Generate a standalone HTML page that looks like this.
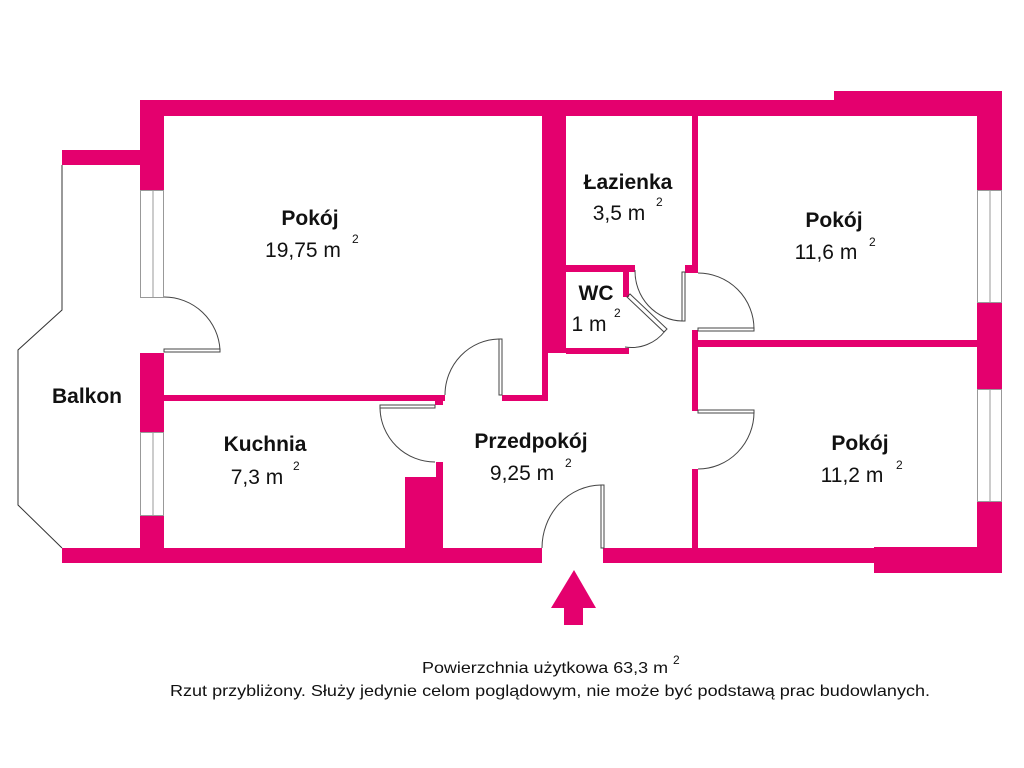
<!DOCTYPE html>
<html><head><meta charset="utf-8"><style>
html,body{margin:0;padding:0;background:#fff;}
svg{display:block;}
text{font-family:"Liberation Sans",sans-serif;fill:#111;}
.b{font-weight:bold;font-size:21px;}
.n{font-size:21px;}
.s{font-size:12px;}
.f{font-size:16px;}
</style></head><body>
<svg width="1024" height="768" viewBox="0 0 1024 768" xmlns="http://www.w3.org/2000/svg">
<g fill="#e4006e">
<rect x="140" y="100" width="700" height="16"/>
<rect x="834" y="91" width="168" height="25"/>
<rect x="977" y="91" width="25" height="99"/>
<rect x="977" y="303" width="25" height="86"/>
<rect x="977" y="502" width="25" height="71"/>
<rect x="874" y="547" width="128" height="26"/>
<rect x="62" y="548" width="480" height="15"/>
<rect x="603" y="548" width="290" height="15"/>
<rect x="62" y="150" width="100" height="15"/>
<rect x="140" y="100" width="24" height="90"/>
<rect x="140" y="353" width="24" height="79"/>
<rect x="140" y="515" width="24" height="48"/>
<rect x="164" y="395" width="281" height="6"/>
<rect x="435" y="401" width="8" height="4"/>
<rect x="502" y="395" width="46" height="6"/>
<rect x="542" y="116" width="24" height="237"/>
<rect x="542" y="353" width="6" height="48"/>
<rect x="436" y="462" width="7" height="90"/>
<rect x="405" y="477" width="38" height="75"/>
<rect x="566" y="265" width="69" height="7"/>
<rect x="623" y="272" width="6" height="25"/>
<rect x="566" y="348" width="63" height="6"/>
<rect x="685" y="265" width="13" height="8"/>
<rect x="692" y="116" width="6" height="157"/>
<rect x="692" y="330" width="6" height="81"/>
<rect x="692" y="469" width="6" height="82"/>
<rect x="698" y="340" width="279" height="7"/>
<polygon points="574,570 596,608 583,608 583,625 564,625 564,608 551,608"/>
</g>
<g fill="none" stroke="#999" stroke-width="1">
<rect x="140.5" y="190.5" width="23" height="107"/>
<line x1="153" y1="190" x2="153" y2="297"/>
<rect x="140.5" y="432.5" width="23" height="83"/>
<line x1="153" y1="432" x2="153" y2="515"/>
<rect x="977.5" y="190.5" width="24" height="112"/>
<line x1="990" y1="190" x2="990" y2="303"/>
<rect x="977.5" y="389.5" width="24" height="112"/>
<line x1="990" y1="389" x2="990" y2="502"/>
</g>
<polyline points="62,165 62,310 18,350 18,505 62,548" fill="none" stroke="#333" stroke-width="1"/>
<g fill="none" stroke="#444" stroke-width="1">
<rect x="164" y="349" width="56" height="3"/>
<path d="M164,297 A56,56 0 0 1 220,350"/>
<rect x="499" y="339" width="3" height="56"/>
<path d="M445,395 A55,56 0 0 1 499,339"/>
<rect x="380" y="405" width="55" height="3"/>
<path d="M380,408 A55,55 0 0 0 435,462"/>
<rect x="601" y="485" width="3" height="63"/>
<path d="M542,548 A60,63 0 0 1 601,485"/>
<rect x="682" y="272" width="3" height="49"/>
<path d="M635,270 A48,50 0 0 0 682,321"/>
<polygon points="627,297 630,294 667,329 664,332"/>
<path d="M665,331 A42,42 0 0 1 625,347"/>
<rect x="698" y="328" width="56" height="3"/>
<path d="M698,273 A56,56 0 0 1 754,329"/>
<rect x="698" y="410" width="56" height="3"/>
<path d="M754,412 A56,57 0 0 1 698,469"/>
</g>
<text class="b" x="310" y="225" text-anchor="middle">Pokój</text>
<text class="n" x="303" y="257" text-anchor="middle">19,75 m</text><text class="s" x="352" y="243">2</text>
<text class="b" x="628" y="189" text-anchor="middle">Łazienka</text>
<text class="n" x="619" y="220" text-anchor="middle">3,5 m</text><text class="s" x="656" y="206">2</text>
<text class="b" x="834" y="227" text-anchor="middle">Pokój</text>
<text class="n" x="826" y="259" text-anchor="middle">11,6 m</text><text class="s" x="869" y="246">2</text>
<text class="b" x="596" y="300" text-anchor="middle">WC</text>
<text class="n" x="589" y="331" text-anchor="middle">1 m</text><text class="s" x="614" y="317">2</text>
<text class="b" x="87" y="403" text-anchor="middle">Balkon</text>
<text class="b" x="265" y="451" text-anchor="middle">Kuchnia</text>
<text class="n" x="257" y="484" text-anchor="middle">7,3 m</text><text class="s" x="293" y="470">2</text>
<text class="b" x="531" y="448" text-anchor="middle">Przedpokój</text>
<text class="n" x="522" y="480" text-anchor="middle">9,25 m</text><text class="s" x="565" y="467">2</text>
<text class="b" x="860" y="450" text-anchor="middle">Pokój</text>
<text class="n" x="852" y="482" text-anchor="middle">11,2 m</text><text class="s" x="896" y="469">2</text>
<text class="f" x="422" y="673" textLength="246" lengthAdjust="spacingAndGlyphs">Powierzchnia użytkowa 63,3 m</text><text class="s" x="673" y="664">2</text>
<text class="f" x="170" y="696" textLength="760" lengthAdjust="spacingAndGlyphs">Rzut przybliżony. Służy jedynie celom poglądowym, nie może być podstawą prac budowlanych.</text>
</svg>
</body></html>
